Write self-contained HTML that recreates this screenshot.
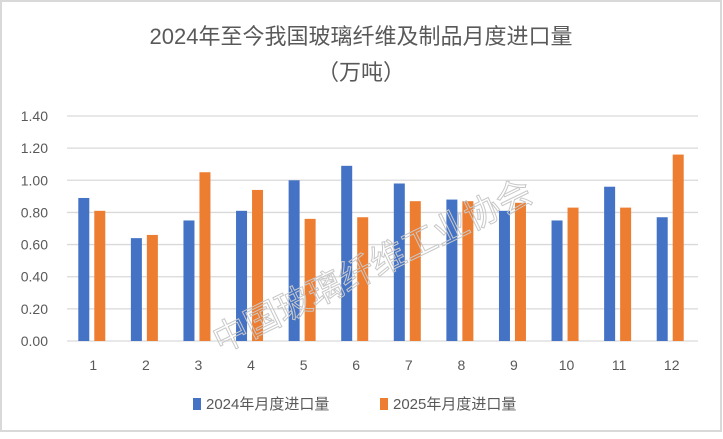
<!DOCTYPE html>
<html><head><meta charset="utf-8">
<style>
html,body{margin:0;padding:0;background:#fff;}
body{width:723px;height:434px;overflow:hidden;font-family:"Liberation Sans","Noto Sans CJK SC",sans-serif;}
svg text{font-family:"Liberation Sans","Noto Sans CJK SC",sans-serif;}
</style></head><body>
<svg id="chart" width="723" height="434">
<rect x="1" y="1" width="720" height="430" fill="#fff" stroke="#d9d9d9" stroke-width="2"/>
<text x="361" y="44" text-anchor="middle" font-size="22" fill="#595959">2024年至今我国玻璃纤维及制品月度进口量</text>
<text x="361" y="80" text-anchor="middle" font-size="22" fill="#595959">（万吨）</text>
<g id="grid"></g><g id="bars"></g><g id="xlabels"></g>
<text x="372" y="278" transform="rotate(-26 372 265)" font-size="35" fill="none" stroke="#c8c8c8" stroke-width="1" text-anchor="middle">中国玻璃纤维工业协会</text>
<rect x="193" y="398" width="8" height="12" fill="#4472c4"/>
<text x="206" y="409" font-size="15" fill="#595959">2024年月度进口量</text>
<rect x="380" y="398" width="8" height="12" fill="#ed7d31"/>
<text x="393" y="409" font-size="15" fill="#595959">2025年月度进口量</text>
</svg>
<script>
const categories=["1","2","3","4","5","6","7","8","9","10","11","12"];
const series2024=[0.89,0.64,0.75,0.81,1.00,1.09,0.98,0.88,0.81,0.75,0.96,0.77];
const series2025=[0.81,0.66,1.05,0.94,0.76,0.77,0.87,0.87,0.86,0.83,0.83,1.16];
const yTicks=[0,0.2,0.4,0.6,0.8,1.0,1.2,1.4];
const NS="http://www.w3.org/2000/svg";
const x0=67,x1=698,y0=341,y1=116,yMax=1.4;
const step=(x1-x0)/categories.length;
const yS=v=>y0-(v/yMax)*(y0-y1);
function mk(t,a,p){const e=document.createElementNS(NS,t);for(const k in a)e.setAttribute(k,a[k]);p.appendChild(e);return e;}
const g=document.getElementById('grid');
yTicks.forEach(v=>{
  const l=mk('line',{x1:x0,x2:x1,y1:yS(v),y2:yS(v),stroke:'#d9d9d9','stroke-width':1.3},g);
  
  
  const t=mk('text',{x:48,y:yS(v)+5,'text-anchor':'end','font-size':14,fill:'#595959'},g);
  t.textContent=v.toFixed(2);
  
  
});
const b=document.getElementById('bars'),xl=document.getElementById('xlabels');
categories.forEach((c,i)=>{
  const cx=x0+step*(i+0.5);
  const r1=mk('rect',{x:cx-15,y:yS(series2024[i]),width:11,height:y0-yS(series2024[i]),fill:'#4472c4'},b);
  
  
  const r2=mk('rect',{x:cx+1,y:yS(series2025[i]),width:11,height:y0-yS(series2025[i]),fill:'#ed7d31'},b);
  
  
  const t=mk('text',{x:cx,y:370,'text-anchor':'middle','font-size':14,fill:'#595959'},xl);
  t.textContent=c;
  
  
});
</script>
</body></html>
